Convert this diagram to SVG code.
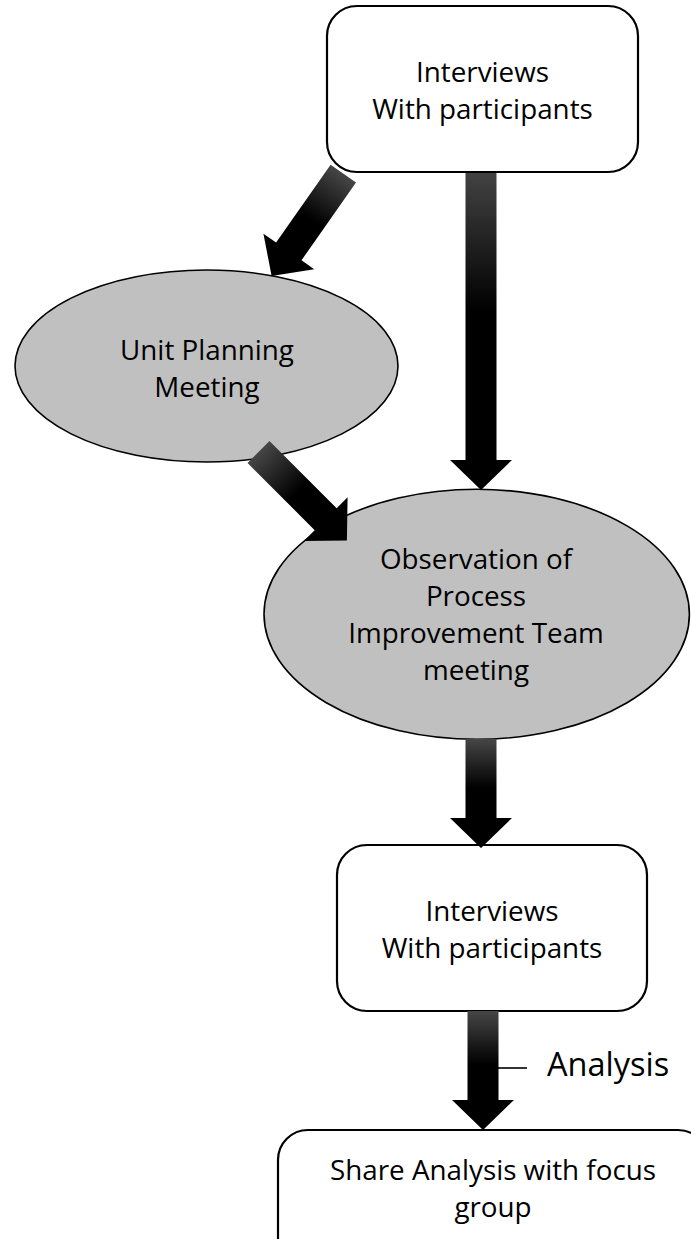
<svg xmlns="http://www.w3.org/2000/svg" width="691" height="1239" viewBox="0 0 691 1239">
<style>
.box{fill:#ffffff;stroke:#000000;stroke-width:2.2}
.ell{fill:#c0c0c0;stroke:#000000;stroke-width:1.6}
.t{font-family:"Open Sans","Liberation Sans",sans-serif;font-size:27.8px;fill:#000000;text-anchor:middle}
.arr{fill:url(#grad)}
</style>
<defs>
<linearGradient id="grad" x1="0" y1="0" x2="1" y2="0">
<stop offset="0" stop-color="#464646"/>
<stop offset="0.45" stop-color="#000000"/>
<stop offset="1" stop-color="#000000"/>
</linearGradient>
</defs>
<rect width="691" height="1239" fill="#ffffff"/>
<g id="node-unit-planning">
<ellipse class="ell" cx="206.5" cy="366" rx="191.5" ry="96"/>
<text class="t" x="207" y="360">Unit Planning</text>
<text class="t" x="207" y="397">Meeting</text>
</g>
<g id="node-observation">
<ellipse class="ell" cx="476.7" cy="614.3" rx="212.7" ry="125"/>
<text class="t" x="476" y="569">Observation of</text>
<text class="t" x="476" y="606">Process</text>
<text class="t" x="476" y="643">Improvement Team</text>
<text class="t" x="476" y="680">meeting</text>
</g>
<g id="node-interviews-2">
<rect class="box" x="337" y="845" width="310" height="166" rx="30" ry="30"/>
<text class="t" x="492" y="921">Interviews</text>
<text class="t" x="492" y="958">With participants</text>
</g>
<g id="node-share">
<rect class="box" x="278" y="1130" width="430" height="170" rx="30" ry="30"/>
<text class="t" x="493" y="1180">Share Analysis with focus</text>
<text class="t" x="493" y="1217">group</text>
</g>
<g id="connectors">
<path class="arr" transform="translate(343.3,173.6) rotate(125)" d="M0,-15.5 H95 V-31 L125,0 L95,31 V15.5 H0 Z"/>
<path class="arr" transform="translate(258.5,452) rotate(45)" d="M0,-15.5 H95 V-31 L125,0 L95,31 V15.5 H0 Z"/>
<path class="arr" transform="translate(481,165) rotate(90)" d="M0,-15.5 H295 V-31 L325,0 L295,31 V15.5 H0 Z"/>
<path class="arr" transform="translate(481,739) rotate(90)" d="M0,-15.5 H79 V-31 L109,0 L79,31 V15.5 H0 Z"/>
<path class="arr" transform="translate(483,1011) rotate(90)" d="M0,-15.5 H89 V-31 L119,0 L89,31 V15.5 H0 Z"/>
<line x1="498" y1="1068" x2="527" y2="1068" stroke="#000000" stroke-width="1.6"/>
<text x="547" y="1076" style="font-family:'Open Sans','Liberation Sans',sans-serif;font-size:32.5px;fill:#000000">Analysis</text>
</g>
<g id="node-interviews-1">
<rect class="box" x="327" y="6" width="311" height="166" rx="30" ry="30"/>
<text class="t" x="482.5" y="82">Interviews</text>
<text class="t" x="482.5" y="119">With participants</text>
</g>
</svg>
